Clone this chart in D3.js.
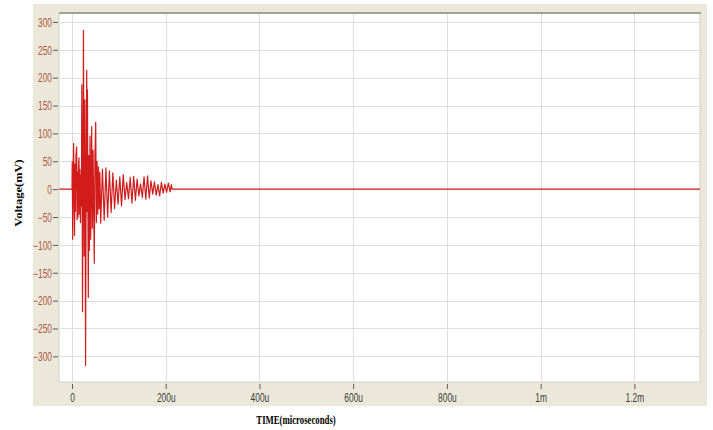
<!DOCTYPE html>
<html>
<head>
<meta charset="utf-8">
<script src="https://cdn.jsdelivr.net/npm/d3@7"></script>
<style>
  html, body { margin: 0; padding: 0; background: #ffffff; }
  svg { display: block; }
</style>
</head>
<body>
<svg id="chart" width="713" height="430"></svg>
<script>
// Axis ticks
const timeTicks = [0, 200, 400, 600, 800, 1000, 1200];
const timeTickLabels = ["0", "200u", "400u", "600u", "800u", "1m", "1.2m"];
const voltTicks = [300, 250, 200, 150, 100, 50, 0, -50, -100, -150, -200, -250, -300];

// Transient waveform: time (µs) and voltage (mV) at each turning point
const signalTimes = [
  -27.7, 0, 0.6, 1.5, 2.5, 3.5, 4.5, 5.5, 6.5, 7.5, 8.5, 10, 11, 12, 13, 14, 15, 16, 17, 18, 19, 20,
  21, 22.5, 24.5, 26, 27.5, 29, 30.5, 31.5, 32.2, 33, 34.8, 36, 37, 38.5, 40, 42, 43.5, 45, 47.6,
  49, 50.6, 52, 53.5, 55, 56.5, 58, 59.5, 61.3, 65, 68.7, 72.4, 76.1, 79.8, 83.5, 87.2, 90.9,
  94.6, 98.3, 102, 105.7, 109.4, 113.1, 116.8, 120.5, 124.2, 127.9, 131.6, 135.3, 139, 142.7,
  146.4, 150.1, 153.8, 157.5, 161.2, 164.9, 168.6, 172.3, 176, 179.7, 183.4, 187.1, 190.8,
  194.5, 198.2, 201.9, 205.6, 209.3, 212, 213.5, 1340
];
const signalVolts = [
  0, 0, 49, -90, 30, 82, -20, -83, 45, -40, 60, 76, -55, 30, -50, 40, 56, -45, 35, -60, 25, -30,
  187, -220, 285, -120, 160, -316, 90, 213, -40, 178, -194, 60, -110, 95, -90, 112, -70, 70, -133,
  60, 120, -60, 50, -45, 40, -35, 30, -61, 36, -56, 38, -50, 33, -42, 29, -35,
  16, -27, 22, -30, 26, -19, 12, -17, 21, -25, 23, -20, 18, -12,
  9, -15, 22, -18, 24, -16, 15, -9, 13, -11, 8, -12, 12,
  -7, 9, -6, 11, -5, 8, 0, 0
];

const svg = d3.select("#chart");
const plot = { left: 59, top: 13, right: 700, bottom: 382 };
const squeeze = 0.7;   // narrow glyph width used for all lettering

const x = d3.scaleLinear().domain([-27.7, 1340]).range([plot.left, plot.right]);
const y = d3.scaleLinear().domain([-346, 316]).range([plot.bottom, plot.top]);

// Beige frame
svg.append("rect")
  .attr("x", 33).attr("y", 4).attr("width", 674).attr("height", 402)
  .attr("fill", "#ebe8d9");

// White plotting area
svg.append("rect")
  .attr("x", plot.left).attr("y", plot.top)
  .attr("width", plot.right - plot.left).attr("height", plot.bottom - plot.top)
  .attr("fill", "#ffffff")
  .attr("stroke", "#d2d0c4").attr("stroke-width", 1);

// Grid
svg.append("g")
  .selectAll("line")
  .data(voltTicks)
  .join("line")
  .attr("x1", plot.left).attr("x2", plot.right)
  .attr("y1", d => Math.round(y(d)) + 0.5).attr("y2", d => Math.round(y(d)) + 0.5)
  .attr("stroke", "#dedede").attr("stroke-width", 1);

svg.append("g")
  .selectAll("line")
  .data(timeTicks)
  .join("line")
  .attr("x1", d => Math.round(x(d)) + 0.5).attr("x2", d => Math.round(x(d)) + 0.5)
  .attr("y1", plot.top).attr("y2", plot.bottom)
  .attr("stroke", "#dedede").attr("stroke-width", 1);

// Darker top edge of the plotting area
svg.append("line")
  .attr("x1", plot.left).attr("x2", plot.right + 1)
  .attr("y1", plot.top).attr("y2", plot.top)
  .attr("stroke", "#8e8d78").attr("stroke-width", 1.5);

// Y axis
const yAxis = svg.append("g")
  .attr("transform", `translate(${plot.left - 1},0)`)
  .call(d3.axisLeft(y).tickValues(voltTicks).tickSize(5).tickFormat(d3.format("d")));
yAxis.select(".domain").remove();
yAxis.selectAll(".tick line").attr("stroke", "#5a5a50");
yAxis.selectAll(".tick text")
  .attr("x", -6 / squeeze)
  .attr("dy", "0.36em")
  .attr("transform", `scale(${squeeze},1)`)
  .attr("fill", "#ad5447")
  .style("font", "12px 'Liberation Sans', Arial, sans-serif");

// X axis
const xAxis = svg.append("g")
  .attr("transform", `translate(0,${plot.bottom + 2})`)
  .call(d3.axisBottom(x).tickValues(timeTicks).tickSize(5)
    .tickFormat((d, i) => timeTickLabels[i]));
xAxis.select(".domain").remove();
xAxis.selectAll(".tick line").attr("stroke", "#5a5a50");
xAxis.selectAll(".tick text")
  .attr("y", 9)
  .attr("transform", `scale(${squeeze},1)`)
  .attr("fill", "#3c3c3c")
  .style("font", "12px 'Liberation Sans', Arial, sans-serif");

// Waveform
const line = d3.line()
  .x((d, i) => x(signalTimes[i]))
  .y((d, i) => y(signalVolts[i]));

svg.append("path")
  .datum(signalVolts)
  .attr("d", line)
  .attr("fill", "none")
  .attr("stroke", "#d21c1c")
  .attr("stroke-width", 1.2)
  .attr("stroke-linejoin", "round");

// Axis titles
svg.append("text")
  .attr("transform", `translate(22,193) rotate(-90) scale(1,${squeeze + 0.05})`)
  .attr("text-anchor", "middle")
  .attr("fill", "#000")
  .style("font", "bold 12.5px 'Liberation Serif', 'Times New Roman', serif")
  .text("Voltage(mV)");

svg.append("text")
  .attr("transform", `translate(296,424) scale(${squeeze},1)`)
  .attr("text-anchor", "middle")
  .attr("fill", "#000")
  .style("font", "bold 12.5px 'Liberation Serif', 'Times New Roman', serif")
  .text("TIME(microseconds)");
</script>
</body>
</html>
